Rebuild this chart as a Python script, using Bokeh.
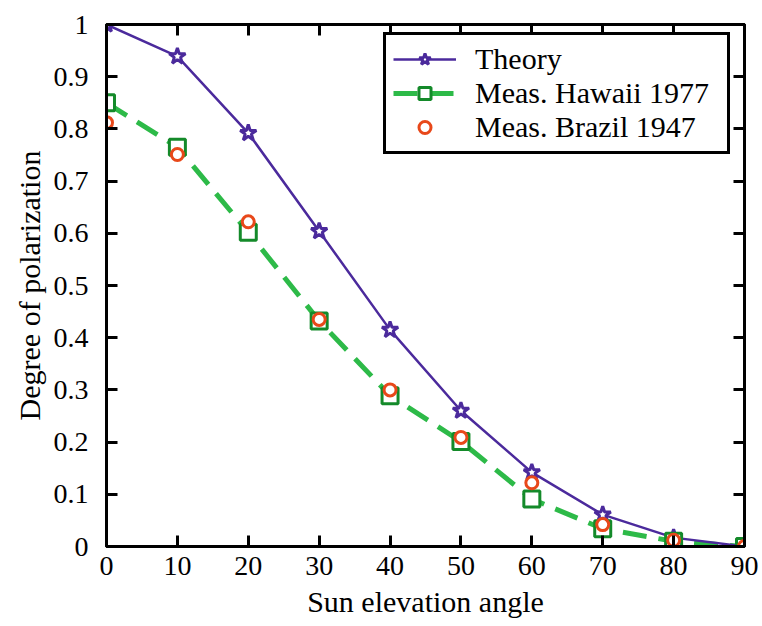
from bokeh.plotting import figure
from bokeh.models import LinearAxis, FixedTicker, Legend, LegendItem, ColumnDataSource
from bokeh.embed import file_html
from bokeh.resources import INLINE

angle = [0, 10, 20, 30, 40, 50, 60, 70, 80, 90]
theory = [1.0, 0.939, 0.792, 0.604, 0.415, 0.26, 0.142, 0.061, 0.017, 0.0]
hawaii = [0.85, 0.765, 0.602, 0.432, 0.289, 0.201, 0.091, 0.034, 0.01, 0.0]
brazil = [0.812, 0.751, 0.622, 0.435, 0.30, 0.209, 0.122, 0.042, 0.012, 0.0]
xticks = [0, 10, 20, 30, 40, 50, 60, 70, 80, 90]
yticks = [0, 0.1, 0.2, 0.3, 0.4, 0.5, 0.6, 0.7, 0.8, 0.9, 1]
ylabels = ["0", "0.1", "0.2", "0.3", "0.4", "0.5", "0.6", "0.7", "0.8", "0.9", "1"]

FONT = "Liberation Serif"
PURPLE = "#4b2a9c"
GREEN_LINE = "#2dba48"
GREEN_MARK = "#148a2a"
RED = "#e8481a"

p = figure(width=762, height=626, output_backend="svg", toolbar_location=None,
           x_range=(0, 90), y_range=(0, 1),
           min_border_left=106, min_border_right=18, min_border_top=24, min_border_bottom=80,
           x_axis_label="Sun elevation angle", y_axis_label="Degree of polarization")
p.grid.visible = False
p.outline_line_color = "black"
p.outline_line_width = 3
p.outline_line_alpha = 1
p.background_fill_color = "white"
p.border_fill_color = "white"

src = ColumnDataSource(dict(x=angle, t=theory, h=hawaii, b=brazil))

l_h = p.line("x", "h", source=src, line_color=GREEN_LINE, line_width=5, line_dash="24 12")
l_t = p.line("x", "t", source=src, line_color=PURPLE, line_width=2.5)
m_t = p.scatter("x", "t", source=src, marker="star", size=17, fill_color="white",
                line_color=PURPLE, line_width=3)
m_h = p.scatter("x", "h", source=src, marker="square", size=16, fill_color="white",
                line_color=GREEN_MARK, line_width=3)
m_b = p.scatter("x", "b", source=src, marker="circle", size=12, fill_color="white",
                line_color=RED, line_width=3)

for ax in [p.xaxis[0], p.yaxis[0]]:
    ax.axis_line_width = 3
    ax.axis_line_color = "black"
    ax.major_tick_in = 11
    ax.major_tick_out = 0
    ax.major_tick_line_width = 3
    ax.minor_tick_line_color = None
    ax.major_label_text_font = FONT
    ax.major_label_text_font_size = "28px"
    ax.major_label_text_color = "black"
    ax.axis_label_text_font = FONT
    ax.axis_label_text_font_size = "30px"
    ax.axis_label_text_font_style = "normal"
    ax.axis_label_text_color = "black"

p.xaxis[0].ticker = FixedTicker(ticks=xticks)
p.yaxis[0].ticker = FixedTicker(ticks=yticks)
p.yaxis[0].major_label_overrides = {t: s for t, s in zip(yticks, ylabels)}
p.xaxis[0].major_label_standoff = 10
p.yaxis[0].major_label_standoff = 18
p.xaxis[0].axis_label_standoff = 7
p.yaxis[0].axis_label_standoff = 5

for loc, ticks in [("right", yticks), ("above", xticks)]:
    ax = LinearAxis(ticker=FixedTicker(ticks=ticks))
    ax.major_label_text_font_size = "0px"
    ax.major_label_text_color = None
    ax.axis_line_width = 3
    ax.major_tick_in = 11
    ax.major_tick_out = 0
    ax.major_tick_line_width = 3
    ax.minor_tick_line_color = None
    ax.major_label_standoff = 0
    p.add_layout(ax, loc)

legend = Legend(items=[
    LegendItem(label="Theory", renderers=[l_t, m_t]),
    LegendItem(label="Meas. Hawaii 1977", renderers=[l_h, m_h]),
    LegendItem(label="Meas. Brazil 1947", renderers=[m_b]),
], location=(277, 392))
legend.label_text_font = FONT
legend.label_text_font_size = "30px"
legend.label_text_color = "black"
legend.border_line_color = "black"
legend.border_line_alpha = 1
legend.border_line_width = 3
legend.glyph_width = 63
legend.glyph_height = 30
legend.label_height = 30
legend.label_width = 245
legend.label_standoff = 19
legend.spacing = 0
legend.padding = 7
legend.margin = 0
legend.background_fill_alpha = 1
p.add_layout(legend, "center")

open("out.html", "w").write(file_html(p, INLINE))
